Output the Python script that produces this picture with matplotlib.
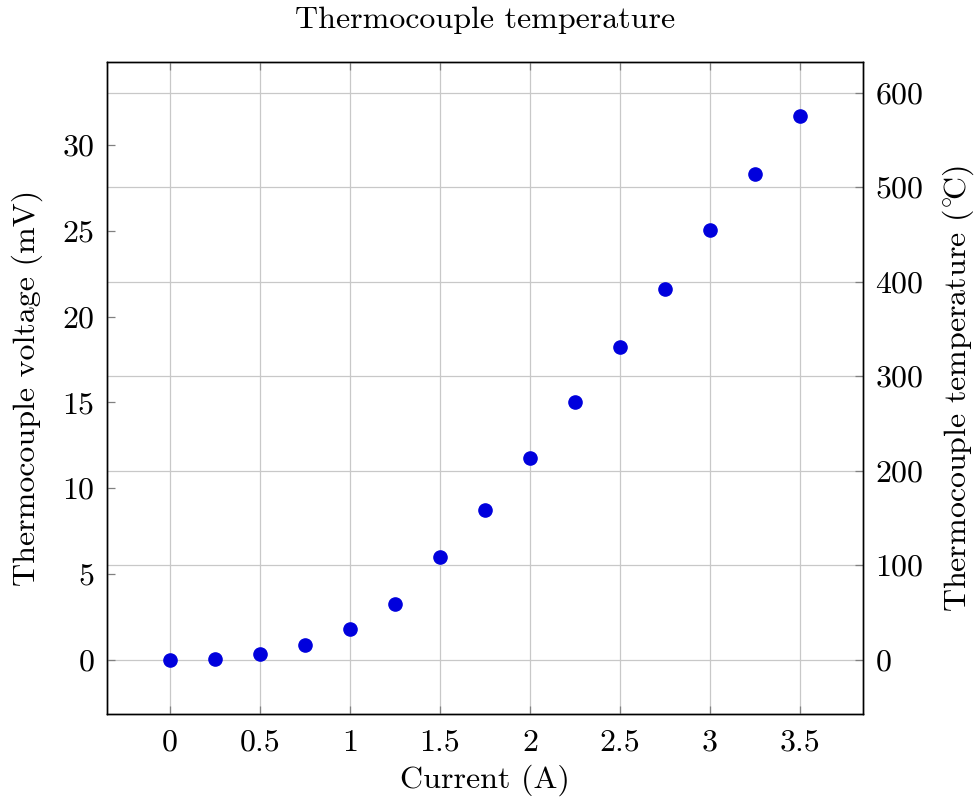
import matplotlib
matplotlib.use("Agg")
import matplotlib.pyplot as plt
import numpy as np

current = [0, 0.25, 0.5, 0.75, 1.0, 1.25, 1.5, 1.75, 2.0, 2.25, 2.5, 2.75, 3.0, 3.25, 3.5]
voltage = [0.0, 0.06, 0.35, 0.87, 1.8, 3.26, 6.0, 8.74, 11.76, 15.03, 18.23, 21.6, 25.04, 28.3, 31.68]
temp_range = [0, 575]

x_ticks = [0, 0.5, 1, 1.5, 2, 2.5, 3, 3.5]
x_ticklabels = ["0", "0.5", "1", "1.5", "2", "2.5", "3", "3.5"]
yl_ticks = [0, 5, 10, 15, 20, 25, 30]
yr_ticks = [0, 100, 200, 300, 400, 500, 600]

plt.rcParams['font.family'] = ['cmr10', 'DejaVu Serif']
plt.rcParams['mathtext.fontset'] = 'cm'
plt.rcParams['axes.unicode_minus'] = False
plt.rcParams['axes.formatter.use_mathtext'] = True

FS = 23
W, H = 978, 801
fig = plt.figure(figsize=(9.78, 8.01), dpi=100)
ax = fig.add_axes([107/W, 1-714/H, (863-107)/W, (714-62)/H])
ax2 = ax.twinx()

def enlarge(lo, hi, f=0.1):
    d = (hi - lo) * f
    return lo - d, hi + d

ax.set_xlim(*enlarge(min(current), max(current)))
ax.set_ylim(*enlarge(min(voltage), max(voltage)))
ax2.set_ylim(*enlarge(*temp_range))

ax2.grid(True, axis='y', color='#c8c8c8', lw=0.9)
ax.grid(True, axis='x', color='#c8c8c8', lw=0.9)
ax2.set_axisbelow(True)
ax.set_zorder(ax2.get_zorder() + 1)
ax.patch.set_visible(False)

ax.plot(current, voltage, 'o', color='#0000dd', ms=9.5, mec='#0000dd', zorder=5, clip_on=False)

ax.set_xticks(x_ticks)
ax.set_xticklabels(x_ticklabels)
ax.set_yticks(yl_ticks)
ax2.set_yticks(yr_ticks)

for a in (ax, ax2):
    a.tick_params(direction='in', length=6, width=0.9, color='#808080', labelsize=FS, pad=9)
    for s in a.spines.values():
        s.set_linewidth(1.0)
        s.set_color('black')
ax.tick_params(axis='x', top=True, bottom=True, pad=11)
ax.tick_params(axis='y', left=True, right=False)
ax2.tick_params(axis='y', right=True, left=False)

fig.text(485/W, 1-780/H, 'Current (A)', fontsize=FS, ha='center', va='center')
fig.text(27/W, 1-388/H, 'Thermocouple voltage (mV)', fontsize=FS, ha='center', va='center', rotation=90)
fig.text(958/W, 1-388/H, r'Thermocouple temperature ($^{\circ}\!$C)', fontsize=FS, ha='center', va='center', rotation=90)
fig.text(485/W, 1-20/H, 'Thermocouple temperature', fontsize=FS, ha='center', va='center')

fig.savefig('out.png', dpi=100)
